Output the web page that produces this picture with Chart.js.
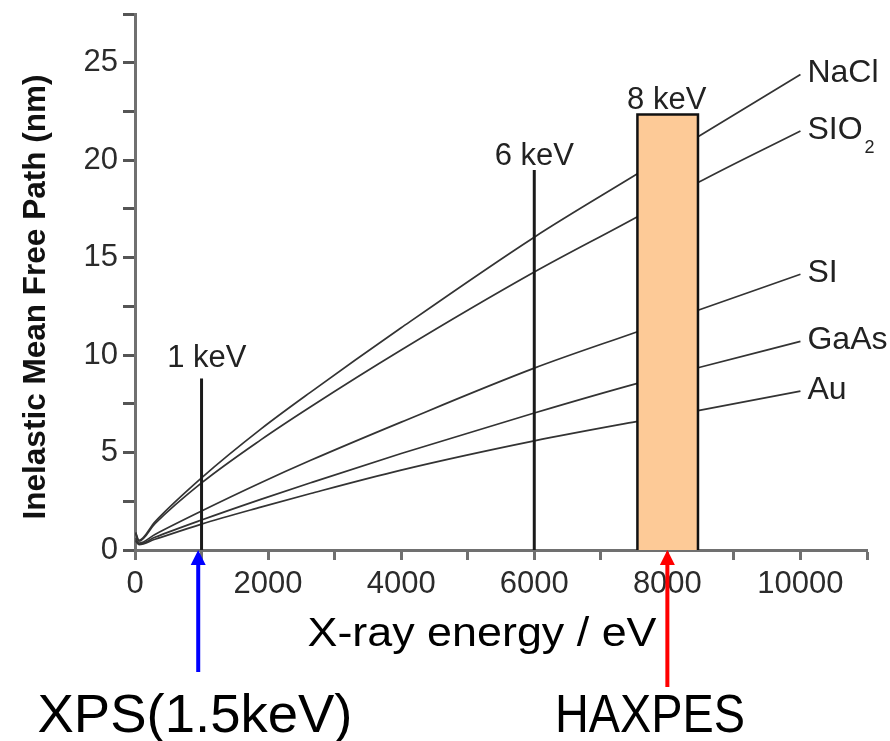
<!DOCTYPE html>
<html>
<head>
<meta charset="utf-8">
<script src="https://cdn.jsdelivr.net/npm/chart.js@4.4.1/dist/chart.umd.min.js"></script>
<style>
  html, body { margin: 0; padding: 0; background: #fff; }
  #wrap { width: 890px; height: 741px; position: relative; }
</style>
</head>
<body>
<div id="wrap"><canvas id="chart"></canvas></div>
<script>
const energies = [10, 60, 300, 1000, 1890, 2640, 4000, 6000, 7550, 8460, 10000];
const nacl = [0.9, 0.5, 1.45, 3.7, 6.2, 8.1, 11.4, 16.05, 19.3, 21.2, 24.4];
const sio2 = [0.85, 0.45, 1.35, 3.44, 5.65, 7.35, 10.26, 14.26, 17.1, 18.85, 21.5];
const si = [0.6, 0.35, 0.8, 2.0, 3.45, 4.6, 6.56, 9.33, 11.2, 12.3, 14.15];
const gaas = [0.5, 0.3, 0.65, 1.54, 2.6, 3.45, 4.95, 7.03, 8.55, 9.35, 10.7];
const au = [0.45, 0.28, 0.55, 1.33, 2.2, 2.9, 4.1, 5.6, 6.6, 7.15, 8.15];
const materials = ["NaCl", "SIO", "SI", "GaAs", "Au"];

// markers: 1 keV and 6 keV lines, 8 keV band
const markerEnergies = [1000, 6000];
const markerHeights = [8.8, 19.5];
const bandRange = [7550, 8460];
const bandHeight = 22.35;
const markerLabels = ["1 keV", "6 keV", "8 keV"];
const markerLabelPos = [[1080, 9.4], [6000, 19.75], [7990, 22.65]];

// arrows below the axis
const arrowEnergies = [950, 8000];
const arrowColors = ["#0000ff", "#ff0000"];

const FONT = '"Liberation Sans", Arial, sans-serif';
Chart.defaults.font.family = FONT;

function pts(ys) {
  return energies.map((e, i) => ({ x: e, y: ys[i] }));
}

function fitText(ctx, text, x, y, font, width) {
  ctx.font = font;
  const w = ctx.measureText(text).width;
  ctx.save();
  ctx.translate(x, y);
  ctx.scale(width / w, 1);
  ctx.textAlign = "center";
  ctx.textBaseline = "alphabetic";
  ctx.fillText(text, 0, 0);
  ctx.restore();
}

const curveStyle = {
  borderColor: "#333",
  borderWidth: 1.7,
  pointRadius: 0,
  cubicInterpolationMode: "monotone",
  fill: false,
  order: 5,
};

const datasets = [
  { label: "NaCl", data: pts(nacl), ...curveStyle },
  { label: "SiO2", data: pts(sio2), ...curveStyle },
  { label: "Si", data: pts(si), ...curveStyle },
  { label: "GaAs", data: pts(gaas), ...curveStyle },
  { label: "Au", data: pts(au), ...curveStyle },
  {
    label: "8 keV",
    data: [
      { x: bandRange[0], y: 0 },
      { x: bandRange[0], y: bandHeight },
      { x: bandRange[1], y: bandHeight },
      { x: bandRange[1], y: 0 },
    ],
    borderColor: "#111",
    borderWidth: 2.5,
    backgroundColor: "#fdca97",
    fill: "origin",
    pointRadius: 0,
    tension: 0,
    order: 2,
  },
];

markerEnergies.forEach((e, i) => {
  datasets.push({
    label: markerLabels[i],
    data: [{ x: e, y: 0 }, { x: e, y: markerHeights[i] }],
    borderColor: "#1a1a1a",
    borderWidth: 3,
    pointRadius: 0,
    fill: false,
    order: 1,
  });
});

const annotations = {
  id: "annotations",
  afterDraw(chart) {
    const ctx = chart.ctx;
    const xs = chart.scales.x;
    const ys = chart.scales.y;

    ctx.save();
    ctx.fillStyle = "#222";

    // material labels at the curve ends
    ctx.textAlign = "left";
    ctx.textBaseline = "alphabetic";
    materials.forEach((name, i) => {
      const meta = chart.getDatasetMeta(i);
      const last = meta.data[meta.data.length - 1];
      const lx = last.x + 7;
      const ly = last.y + 8;
      ctx.font = "32px " + FONT;
      ctx.fillText(name, lx, ly);
      if (i === 1) {
        const w = ctx.measureText(name).width;
        ctx.font = "18px " + FONT;
        ctx.fillText("2", lx + w + 2, ly + 14);
      }
    });

    // marker labels
    ctx.font = "31px " + FONT;
    ctx.textAlign = "center";
    markerLabels.forEach((t, i) => {
      const p = markerLabelPos[i];
      ctx.fillText(t, xs.getPixelForValue(p[0]), ys.getPixelForValue(p[1]));
    });

    // y axis title
    ctx.fillStyle = "#111";
    ctx.save();
    ctx.translate(45, 297);
    ctx.rotate(-Math.PI / 2);
    fitText(ctx, "Inelastic Mean Free Path (nm)", 0, 0, "bold 32px " + FONT, 445);
    ctx.restore();

    // arrows
    const y0 = ys.getPixelForValue(0);
    const arrowEnds = [672, 687];
    arrowEnergies.forEach((e, i) => {
      const ax = xs.getPixelForValue(e);
      ctx.fillStyle = arrowColors[i];
      ctx.fillRect(ax - 2, y0 + 14, 4, arrowEnds[i] - y0 - 14);
      ctx.beginPath();
      ctx.moveTo(ax, y0);
      ctx.lineTo(ax - 7.5, y0 + 15);
      ctx.lineTo(ax + 7.5, y0 + 15);
      ctx.closePath();
      ctx.fill();
    });

    // bottom texts
    ctx.fillStyle = "#000";
    fitText(ctx, "X-ray energy / eV", 482, 646, "40px " + FONT, 349);
    fitText(ctx, "XPS(1.5keV)", 195, 732, "54px " + FONT, 315);
    fitText(ctx, "HAXPES", 650, 732, "54px " + FONT, 190);

    ctx.restore();
  },
};

new Chart(document.getElementById("chart"), {
  type: "line",
  data: { datasets },
  options: {
    responsive: true,
    maintainAspectRatio: false,
    animation: false,
    layout: { padding: { top: 14, right: 23, left: 0, bottom: 0 } },
    plugins: {
      legend: { display: false },
      tooltip: { enabled: false },
    },
    scales: {
      x: {
        type: "linear",
        min: 0,
        max: 11000,
        afterFit(scale) {
          scale.height = 191;
          scale.paddingLeft = 0;
          scale.paddingRight = 0;
        },
        border: { display: true, color: "#707070", width: 3 },
        grid: {
          drawOnChartArea: false,
          drawTicks: true,
          tickLength: 10,
          tickColor: "#707070",
          tickWidth: 3,
        },
        ticks: {
          stepSize: 1000,
          maxRotation: 0,
          autoSkip: false,
          padding: 6,
          color: "#2b2b2b",
          font: { size: 31 },
          callback: (v) => (v % 2000 === 0 && v <= 10000 ? String(v) : ""),
        },
      },
      y: {
        type: "linear",
        min: 0,
        max: 27.5,
        afterFit(scale) {
          scale.width = 135;
          scale.paddingTop = 0;
          scale.paddingBottom = 0;
        },
        border: { display: true, color: "#707070", width: 3 },
        grid: {
          drawOnChartArea: false,
          drawTicks: true,
          tickLength: 12,
          tickColor: "#555",
          tickWidth: 3,
        },
        ticks: {
          stepSize: 2.5,
          autoSkip: false,
          padding: 5,
          color: "#2b2b2b",
          font: { size: 31 },
          callback: (v) => (v % 5 === 0 && v <= 25 ? String(v) : ""),
        },
      },
    },
  },
  plugins: [annotations],
});
</script>
</body>
</html>
